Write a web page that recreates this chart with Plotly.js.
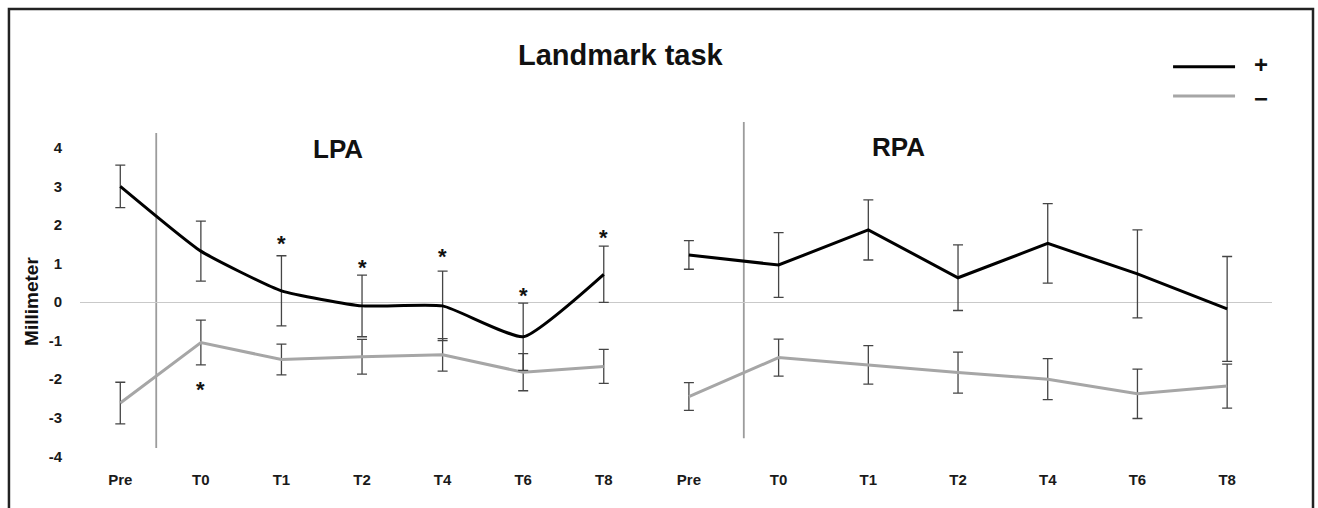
<!DOCTYPE html>
<html>
<head>
<meta charset="utf-8">
<script src="https://cdn.plot.ly/plotly-3.0.1.min.js"></script>
<style>html,body{margin:0;padding:0;background:#fff;}#chart{width:1318px;height:508px;}</style>
</head>
<body>
<div id="chart"></div>
<script>
// Categories (time points)
const timePoints = ['Pre', 'T0', 'T1', 'T2', 'T4', 'T6', 'T8'];

// LPA panel
const lpaPlus = [3.00, 1.32, 0.29, -0.10, -0.10, -0.90, 0.72];
const lpaPlusErr = [0.55, 0.78, 0.91, 0.80, 0.90, 0.87, 0.73];
const lpaMinus = [-2.62, -1.05, -1.49, -1.42, -1.37, -1.82, -1.67];
const lpaMinusErr = [0.54, 0.58, 0.40, 0.45, 0.42, 0.48, 0.44];

// RPA panel
const rpaPlus = [1.22, 0.96, 1.87, 0.63, 1.52, 0.73, -0.18];
const rpaPlusErr = [0.37, 0.84, 0.78, 0.85, 1.03, 1.14, 1.36];
const rpaMinus = [-2.45, -1.44, -1.63, -1.83, -2.00, -2.38, -2.18];
const rpaMinusErr = [0.36, 0.48, 0.50, 0.53, 0.53, 0.64, 0.57];

// Significance markers (LPA)
const sigPlusX = ['T1', 'T2', 'T4', 'T6', 'T8'];
const sigPlusY = [1.68, 1.04, 1.33, 0.33, 1.82];
const sigMinusX = ['T0'];
const sigMinusY = [-2.11];

// Y ticks
const yTicks = [-4, -3, -2, -1, 0, 1, 2, 3, 4];

const plusColor = '#000000';
const minusColor = '#a6a6a6';
const errColor = '#454545';

function errCfg(arr) {
  return {type: 'data', array: arr, visible: true, color: errColor, thickness: 1.3, width: 5};
}

const traces = [
  {x: timePoints, y: lpaMinus, xaxis: 'x', yaxis: 'y', mode: 'lines', line: {color: minusColor, width: 3}, error_y: errCfg(lpaMinusErr), name: '−', showlegend: false, hoverinfo: 'x+y'},
  {x: timePoints, y: lpaPlus, xaxis: 'x', yaxis: 'y', mode: 'lines', line: {color: plusColor, width: 3, shape: 'spline', smoothing: 0.45}, error_y: errCfg(lpaPlusErr), name: '+', showlegend: false, hoverinfo: 'x+y'},
  {x: timePoints, y: rpaMinus, xaxis: 'x2', yaxis: 'y', mode: 'lines', line: {color: minusColor, width: 3}, error_y: errCfg(rpaMinusErr), name: '−', showlegend: false, hoverinfo: 'x+y'},
  {x: timePoints, y: rpaPlus, xaxis: 'x2', yaxis: 'y', mode: 'lines', line: {color: plusColor, width: 3}, error_y: errCfg(rpaPlusErr), name: '+', showlegend: false, hoverinfo: 'x+y'}
];

const tickFont = {family: '"Liberation Sans", Arial, sans-serif', size: 15, weight: 700, color: '#1a1a1a'};
const boldArial = {family: '"Liberation Sans", Arial, sans-serif', weight: 700, color: '#111'};

const xCommon = {
  type: 'category', categoryorder: 'array', categoryarray: timePoints,
  range: [-0.5, 6.5], showgrid: false, zeroline: false, showline: false,
  ticks: 'outside', ticklen: 2, tickcolor: 'rgba(0,0,0,0)', tickfont: tickFont,
  anchor: 'y', fixedrange: true
};

const annotations = [];
function addText(text, x, y, size, extra) {
  annotations.push(Object.assign({text: text, x: x, y: y, xref: 'paper', yref: 'paper', showarrow: false,
    xanchor: 'center', yanchor: 'middle', font: Object.assign({}, boldArial, {size: size})}, extra || {}));
}
addText('Landmark task', 0.4539, 1.189, 29);
addText('LPA', 0.2164, 0.9157, 26);
addText('RPA', 0.687, 0.9215, 26);
addText('Millimeter', -0.0403, 0.474, 19, {textangle: -90});
addText('+', 0.9908, 1.160, 24);
addText('−', 0.9908, 1.062, 24);

sigPlusX.forEach((c, i) => annotations.push({text: '*', x: c, y: sigPlusY[i], xref: 'x', yref: 'y', showarrow: false,
  yshift: -6, font: Object.assign({}, boldArial, {size: 22})}));
sigMinusX.forEach((c, i) => annotations.push({text: '*', x: c, y: sigMinusY[i], xref: 'x', yref: 'y', showarrow: false,
  yshift: -6, font: Object.assign({}, boldArial, {size: 22})}));

const shapes = [
  // vertical separators (Pre | post)
  {type: 'line', xref: 'x', yref: 'y', x0: 0.446, x1: 0.446, y0: 4.38, y1: -3.785, line: {color: '#9c9c9c', width: 1.8}, layer: 'below'},
  {type: 'line', xref: 'x2', yref: 'y', x0: 0.612, x1: 0.612, y0: 4.67, y1: -3.53, line: {color: '#9c9c9c', width: 1.8}, layer: 'below'},
  // legend swatches
  {type: 'line', xref: 'paper', yref: 'paper', x0: 0.917, x1: 0.969, y0: 1.155, y1: 1.155, line: {color: plusColor, width: 3}},
  {type: 'line', xref: 'paper', yref: 'paper', x0: 0.917, x1: 0.969, y0: 1.0698, y1: 1.0698, line: {color: minusColor, width: 3}},
  // outer frame
  {type: 'rect', xref: 'paper', yref: 'paper', x0: -0.0596, x1: 1.0344, y0: 1.3227, y1: -0.14, line: {color: '#222', width: 2.5}, fillcolor: 'rgba(0,0,0,0)'}
];

const layout = {
  width: 1318, height: 508,
  margin: {l: 80, r: 46, t: 120, b: 44, pad: 0},
  paper_bgcolor: '#ffffff', plot_bgcolor: 'rgba(0,0,0,0)',
  showlegend: false,
  xaxis: Object.assign({}, xCommon, {domain: [0, 0.4732]}),
  xaxis2: Object.assign({}, xCommon, {domain: [0.4732, 1]}),
  yaxis: {
    range: [-4.2, 4.72], tickvals: yTicks, ticktext: yTicks.map(String),
    showgrid: false, zeroline: true, zerolinecolor: '#c9c9c9', zerolinewidth: 1,
    showline: false, ticks: 'outside', ticklen: 14, tickcolor: 'rgba(0,0,0,0)',
    tickfont: tickFont, fixedrange: true
  },
  annotations: annotations,
  shapes: shapes
};

Plotly.newPlot('chart', traces, layout, {displayModeBar: false, staticPlot: true});
</script>
</body>
</html>
